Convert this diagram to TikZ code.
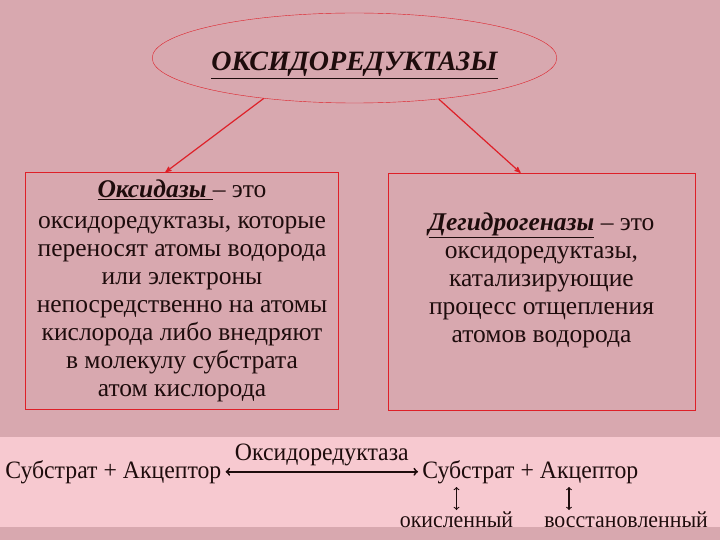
\documentclass[tikz,border=0pt]{standalone}
\usepackage{fontspec}
\setmainfont{Liberation Serif}
\newfontfamily\eqfont[FakeStretch=0.95]{Liberation Serif}
\usetikzlibrary{arrows,shapes.geometric}
\definecolor{slideBg}{RGB}{216,168,175}
\definecolor{bandBg}{RGB}{247,201,208}
\definecolor{lineRed}{RGB}{222,32,40}
\definecolor{inkDark}{RGB}{30,12,12}
\newcommand{\keyTerm}[1]{\underline{\textbf{\textit{#1}}}}

\begin{document}
\begin{tikzpicture}[x=1pt, y=-1pt, >=stealth', semithick]
        \tikzset{
           titleOval/.style={
                        ellipse,
                        draw=lineRed,
                        thin,
                        minimum width=355pt,
                        minimum height=90pt,
                        inner sep=0pt,
                        text=inkDark,
                        font=\fontsize{28}{32}\selectfont\bfseries\itshape
                       },
           defBox/.style={
                        rectangle,
                        draw=lineRed,
                        thin,
                        align=center,
                        inner sep=0pt,
                        text=inkDark,
                        font=\fontsize{25.5}{28}\selectfont
                       },
           link/.style={
                        ->,
                        draw=lineRed,
                        line width=1.2pt
                       },
           eqText/.style={
                        inner xsep=4pt,
                        inner ysep=0pt,
                        anchor=base west,
                        text=inkDark,
                        font=\eqfont\fontsize{25}{28}\selectfont
                       },
           eqWord/.style={
                        inner sep=0pt,
                        text=inkDark,
                        font=\eqfont\fontsize{23}{26}\selectfont
                       },
           swap/.style={
                        <->,
                        >=to,
                        draw=inkDark,
                        line width=1.1pt
                       },
                 };
    %--------------------
        \fill[slideBg] (0,0) rectangle (720,540);
        \fill[bandBg]  (0,437) rectangle (720,527);
    %--------------------
        \node[titleOval] (oxred) at (354.5,58)   {\raisebox{-13pt}[0pt][0pt]{\underline{ОКСИДОРЕДУКТАЗЫ}}};

        \node[defBox, minimum width=313pt, minimum height=237pt] (oxidase) at (182,291)
             {\keyTerm{Оксидазы }– это\\[3pt]
              оксидоредуктазы, которые\\
              переносят атомы водорода\\
              или электроны\\
              непосредственно на атомы\\
              кислорода либо внедряют\\
              в молекулу субстрата\\
              атом кислорода};
        \node[defBox, minimum width=307pt, minimum height=237pt] (dehydro) at (541.5,291.5)
             {\keyTerm{Дегидрогеназы} – это\\
              оксидоредуктазы,\\
              катализирующие\\
              процесс отщепления\\
              атомов водорода\\};

        \node[eqText]  (lhs)     at (1,478)     {Субстрат + Акцептор};
        \node[eqText]  (rhs)     at (418,478)   {Субстрат + Акцептор};

        \node[eqWord]  (oxWord)  at (456.5,520) {окисленный};
        \node[eqWord, anchor=west] (redWord) at (544,520) {восстановленный};

        \coordinate (accTop) at (569,487);
        \coordinate (accBot) at (569,510);
    %--------------------
        \draw[link] (oxred.204) -- (oxidase.98);
        \draw[link] (oxred.334) -- (dehydro.100);

        \draw[<->, >=to, line width=1.8pt, draw=inkDark] (lhs) -- node[eqWord, font=\eqfont\fontsize{25}{28}\selectfont, above=5pt] {Оксидоредуктаза} (rhs);

        \draw[swap] (oxWord.north |- accTop) -- (oxWord.north |- accBot);
        \draw[swap] (accTop) -- (accBot);
\end{tikzpicture}
\end{document}
